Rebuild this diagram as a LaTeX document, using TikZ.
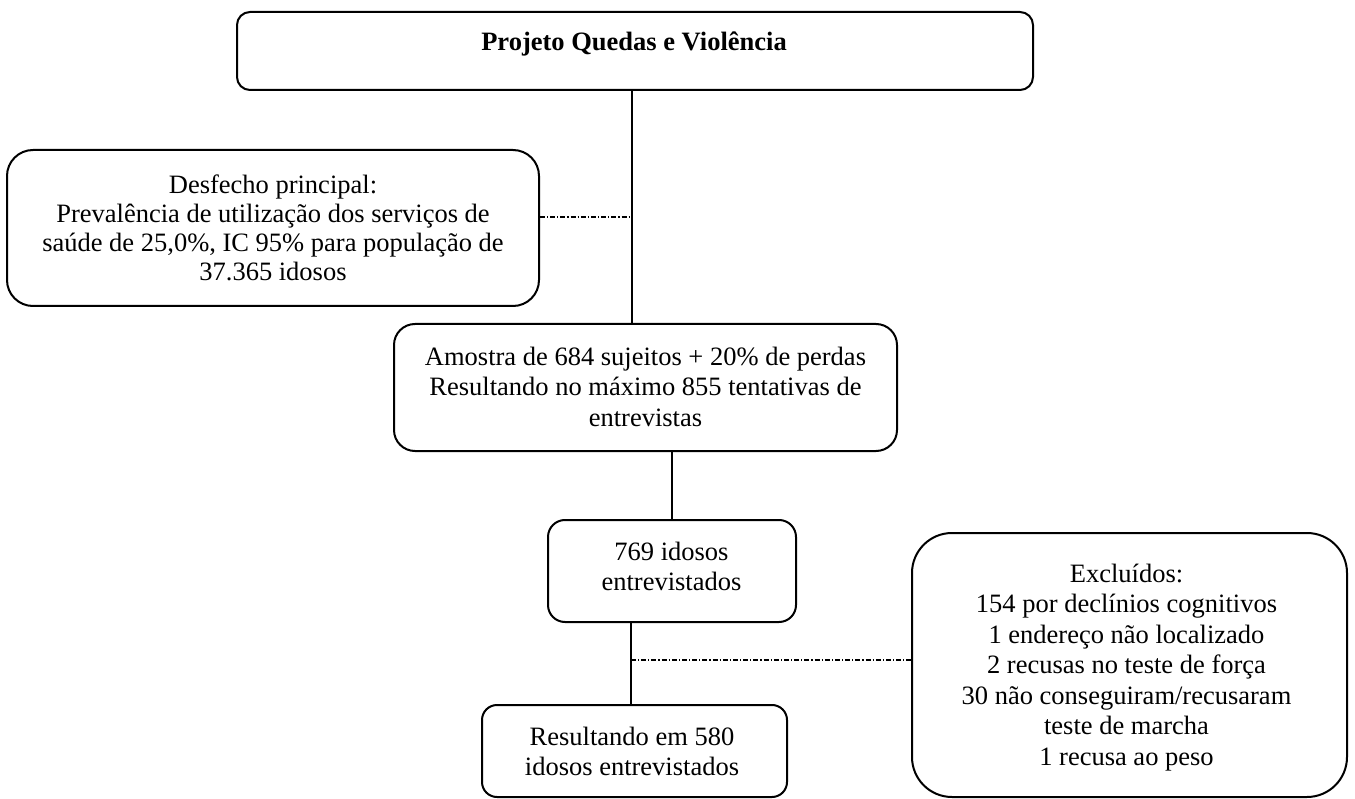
\documentclass[tikz,border=0pt]{standalone}
\usepackage{fontspec}
\setmainfont{Liberation Serif}
\begin{document}
\begin{tikzpicture}[x=1pt,y=-1pt,
  box/.style={draw, line width=2pt, inner sep=0pt},
  txt/.style={align=center, inner sep=0pt},
  conn/.style={line width=1.2pt},
  dd/.style={line width=1.1pt, dash pattern=on 5pt off 2pt on 1.2pt off 2pt}]
\useasboundingbox (0,0) rectangle (1355,799);
% boxes
\node[box, rounded corners=13pt, minimum width=796pt, minimum height=78pt] (top) at (635,51) {};
\node[box, rounded corners=26pt, minimum width=532pt, minimum height=156pt] (left) at (273,228) {};
\node[box, rounded corners=21pt, minimum width=503pt, minimum height=127pt] (amo) at (645.5,387.5) {};
\node[box, rounded corners=17pt, minimum width=248pt, minimum height=102pt] (ent) at (672,571) {};
\node[box, rounded corners=15pt, minimum width=305pt, minimum height=92pt] (res) at (634.5,751) {};
\node[box, rounded corners=40pt, minimum width=435pt, minimum height=264pt] (exc) at (1129.5,665) {};
% texts
\node[txt, font={\fontsize{26.5pt}{30.5pt}\selectfont\bfseries}] (ttop) at (634,44.9) {\strut Projeto Quedas e Violência};
\node[txt, font={\fontsize{26.5pt}{29.3pt}\selectfont}] (tleft) at (273,231.1) {\strut Desfecho principal:\\\strut Prevalência de utilização dos serviços de\\\strut saúde de 25,0\%, IC 95\% para população de\\\strut 37.365 idosos};
\node[txt, font={\fontsize{26.5pt}{31pt}\selectfont}] (tamo) at (645.5,389.8) {\strut Amostra de 684 sujeitos + 20\% de perdas\\\strut Resultando no máximo 855 tentativas de\\\strut entrevistas};
\node[txt, font={\fontsize{26.5pt}{30pt}\selectfont}] (tent) at (671.5,569) {\strut 769 idosos\\\strut entrevistados};
\node[txt, font={\fontsize{26.5pt}{30pt}\selectfont}] (tres) at (632,754) {\strut Resultando em 580\\\strut idosos entrevistados};
\node[txt, font={\fontsize{26.5pt}{30.5pt}\selectfont}] (texc) at (1126.5,667.4) {\strut Excluídos:\\\strut 154 por declínios cognitivos\\\strut 1 endereço não localizado\\\strut 2 recusas no teste de força\\\strut 30 não conseguiram/recusaram\\\strut teste de marcha\\\strut 1 recusa ao peso};
% connectors
\draw[conn] ([xshift=-3pt]top.south) -- ([xshift=-13.5pt]amo.north);
\coordinate (j1) at (632,217);
\draw[dd] (j1 -| left.east) -- (j1);
\draw[conn] ([xshift=26.5pt]amo.south) -- (ent.north);
\draw[conn] ([xshift=-41pt]ent.south) -- ([xshift=-3.5pt]res.north);
\coordinate (j2) at (631,660);
\draw[dd] (j2) -- (j2 -| exc.west);
\end{tikzpicture}
\end{document}
